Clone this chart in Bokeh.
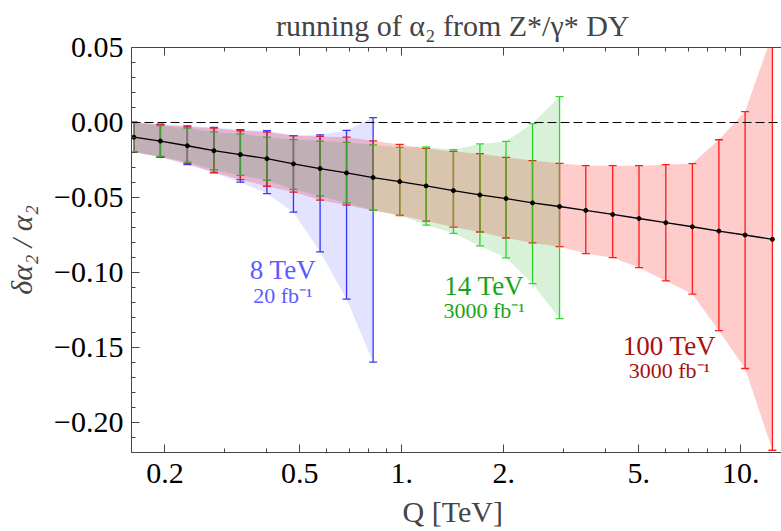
from bokeh.plotting import figure
from bokeh.models import (ColumnDataSource, Whisker, TeeHead, Span, Label, LogAxis,
                          FixedTicker, CustomJSTickFormatter, Range1d)
from bokeh.embed import file_html
from bokeh.resources import INLINE

# ---------------- data ----------------
Q = [0.162, 0.194, 0.233, 0.279, 0.334, 0.400, 0.479, 0.574, 0.687, 0.823,
     0.986, 1.18, 1.42, 1.70, 2.03, 2.43, 2.92, 3.49, 4.19, 5.01,
     6.01, 7.20, 8.62, 10.3, 12.4]
central = [-0.0098, -0.0124, -0.0155, -0.0188, -0.0214, -0.0241, -0.0276, -0.0307, -0.0336, -0.0367,
           -0.0394, -0.0423, -0.0454, -0.0483, -0.0507, -0.0536, -0.0560, -0.0586, -0.0613, -0.0640,
           -0.0668, -0.0695, -0.0724, -0.0750, -0.0779]

# 8 TeV, 20 fb^-1
up8 = [0.0101, 0.0113, 0.0133, 0.0155, 0.0166, 0.0186, 0.0189, 0.0225, 0.0283, 0.0400]
dn8 = [0.0101, 0.0108, 0.0126, 0.0148, 0.0184, 0.0233, 0.0322, 0.0556, 0.0841, 0.1231]
# 14 TeV, 3000 fb^-1
up14 = [0.0097, 0.0103, 0.0117, 0.0125, 0.0138, 0.0144, 0.0162, 0.0183, 0.0203, 0.0218,
        0.0228, 0.0260, 0.0273, 0.0340, 0.0381, 0.0529, 0.0733]
dn14 = [0.0097, 0.0102, 0.0109, 0.0127, 0.0138, 0.0144, 0.0170, 0.0183, 0.0200, 0.0218,
        0.0224, 0.0261, 0.0285, 0.0340, 0.0396, 0.0538, 0.0748]
# 100 TeV, 3000 fb^-1
up100 = [0.0100, 0.0109, 0.0126, 0.0150, 0.0159, 0.0177, 0.0189, 0.0214, 0.0238, 0.0245,
         0.0248, 0.0250, 0.0261, 0.0275, 0.0275, 0.0282, 0.0288, 0.0298, 0.0325, 0.0352,
         0.0387, 0.0421, 0.0609, 0.0823, 0.1370]
dn100 = [0.0100, 0.0106, 0.0119, 0.0144, 0.0167, 0.0184, 0.0188, 0.0211, 0.0215, 0.0219,
         0.0226, 0.0234, 0.0243, 0.0247, 0.0263, 0.0267, 0.0268, 0.0288, 0.0288, 0.0327,
         0.0388, 0.0449, 0.0664, 0.0890, 0.1406]

x_major = [0.2, 0.5, 1, 2, 5, 10]
x_minor = [0.3, 0.4, 0.6, 0.7, 0.8, 0.9, 3, 4, 6, 7, 8, 9]
y_major = [-0.20, -0.15, -0.10, -0.05, 0.0, 0.05]
y_minor = [-0.22, -0.21, -0.19, -0.18, -0.17, -0.16, -0.14, -0.13, -0.12, -0.11,
           -0.09, -0.08, -0.07, -0.06, -0.04, -0.03, -0.02, -0.01, 0.01, 0.02, 0.03, 0.04]

title_text = "running of α₂  from Z*/γ* DY"
x_title = "Q  [TeV]"
y_title = "δα₂ / α₂"

series_labels = [
    # (main, sub, color, x, y_main, y_sub)
    ("8 TeV", "20 fb⁻¹", "#5b5bff", 0.446, -0.0985, -0.1155),
    ("14 TeV", "3000 fb⁻¹", "#1aa31a", 1.75, -0.1089, -0.1255),
    ("100 TeV", "3000 fb⁻¹", "#a81010", 6.16, -0.1487, -0.1653),
]

FONT = "Liberation Serif"

# ---------------- figure ----------------
p = figure(width=781, height=531, x_axis_type="log",
           x_range=Range1d(0.1594, 13.19), y_range=Range1d(-0.22, 0.05),
           output_backend="svg", toolbar_location=None,
           min_border_left=131, min_border_right=0, min_border_top=46, min_border_bottom=79)
p.outline_line_color = None
p.xgrid.visible = False
p.ygrid.visible = False
p.background_fill_color = "white"

p.title.text = title_text
p.title.text_font = FONT
p.title.text_font_size = "30px"
p.title.text_font_style = "normal"
p.title.align = "center"
p.title.standoff = 12
p.title.offset = 0


def make_series(n, up, dn):
    q = Q[:n]
    c = central[:n]
    hi = [ci + u for ci, u in zip(c, up)]
    lo = [ci - d for ci, d in zip(c, dn)]
    return q, c, hi, lo


s8 = make_series(len(up8), up8, dn8)
s14 = make_series(len(up14), up14, dn14)
s100 = make_series(len(up100), up100, dn100)

# error bars (underlay)
for (q, c, hi, lo), col in [(s8, "#3a3aff"), (s100, "#ff2020"), (s14, "#30e030")]:
    src = ColumnDataSource(dict(x=q, hi=hi, lo=lo))
    w = Whisker(base="x", upper="hi", lower="lo", source=src,
                line_color=col, line_width=1.3,
                upper_head=TeeHead(size=8, line_color=col, line_width=1.3),
                lower_head=TeeHead(size=8, line_color=col, line_width=1.3))
    p.add_layout(w)

# bands
for (q, c, hi, lo), col, a in [(s100, "#ff0000", 0.2), (s14, "#00a000", 0.15), (s8, "#0000ff", 0.11)]:
    p.patch(x=list(q) + list(q[::-1]), y=list(hi) + list(lo[::-1]),
            fill_color=col, fill_alpha=a, line_color=None)

# central line and points
p.line(Q, central, line_color="black", line_width=1.3)
p.scatter(Q, central, size=4, color="black")

# zero line
p.add_layout(Span(location=0, dimension="width", line_color="black",
                  line_width=1.2, line_dash="9 4"))

# series labels
for main, sub, col, x, ym, ys in series_labels:
    p.add_layout(Label(x=x, y=ym, text=main, text_color=col, text_font=FONT,
                       text_font_size="27px", text_align="center", text_baseline="middle"))
    p.add_layout(Label(x=x, y=ys, text=sub, text_color=col, text_font=FONT,
                       text_font_size="22px", text_align="center", text_baseline="middle"))

# axes
AX_COL = "#444444"
xfmt = CustomJSTickFormatter(code="return tick >= 1 ? tick.toFixed(0) + '.' : tick.toFixed(1);")
yfmt = CustomJSTickFormatter(code="return (tick < -1e-9 ? '\u2212' : '') + Math.abs(tick).toFixed(2);")

for ax in [p.xaxis[0], p.yaxis[0]]:
    ax.major_tick_in = 8
    ax.major_tick_out = 0
    ax.minor_tick_in = 4
    ax.minor_tick_out = 0
    ax.axis_line_color = AX_COL
    ax.major_tick_line_color = AX_COL
    ax.minor_tick_line_color = AX_COL
    ax.major_label_text_font = FONT
    ax.major_label_text_font_size = "30px"
    ax.major_label_text_color = "black"

p.xaxis[0].ticker = FixedTicker(ticks=x_major, minor_ticks=x_minor)
p.xaxis[0].formatter = xfmt
p.xaxis[0].major_label_standoff = 11
p.xaxis[0].axis_label = x_title
p.xaxis[0].axis_label_text_font = FONT
p.xaxis[0].axis_label_text_font_size = "30px"
p.xaxis[0].axis_label_text_font_style = "normal"
p.xaxis[0].axis_label_standoff = 9

p.yaxis[0].ticker = FixedTicker(ticks=y_major, minor_ticks=y_minor)
p.yaxis[0].formatter = yfmt
p.yaxis[0].major_label_standoff = 8
p.yaxis[0].axis_label = y_title
p.yaxis[0].axis_label_text_font = FONT
p.yaxis[0].axis_label_text_font_size = "30px"
p.yaxis[0].axis_label_text_font_style = "italic"
p.yaxis[0].axis_label_standoff = 13

top = LogAxis(ticker=FixedTicker(ticks=x_major, minor_ticks=x_minor),
              formatter=CustomJSTickFormatter(code="return '';"))
top.major_tick_in = 8
top.major_tick_out = 0
top.minor_tick_in = 4
top.minor_tick_out = 0
top.axis_line_color = AX_COL
top.major_tick_line_color = AX_COL
top.minor_tick_line_color = AX_COL
top.major_label_text_font_size = "1px"
top.major_label_standoff = 0
p.add_layout(top, "above")

open("out.html", "w").write(file_html(p, INLINE))
